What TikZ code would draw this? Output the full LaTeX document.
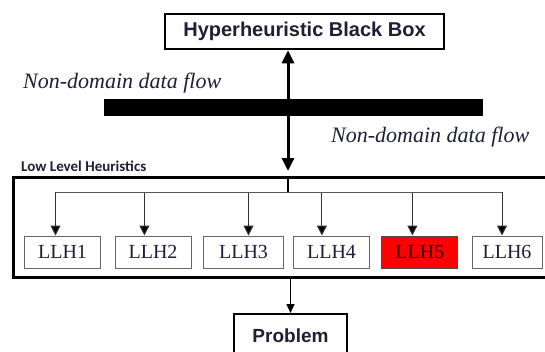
\documentclass[tikz,border=0pt]{standalone}
\usepackage{fontspec}
\setmainfont{Liberation Serif}
\newfontfamily\arialfont{Liberation Sans}
\newfontfamily\califont{Carlito}
\usepackage{tikz}
\usetikzlibrary{arrows.meta}

\definecolor{ink}{RGB}{30,30,55}
\definecolor{llhred}{RGB}{255,0,0}

\tikzset{
  llhbox/.style={draw=black!60, line width=1pt, minimum width=76pt, minimum height=32pt,
    inner sep=0pt, text=ink, font=\fontsize{20}{20}\selectfont},
  branch/.style={draw=black!65, line width=1pt},
  kid/.style={draw=black!80, line width=1pt, ->, >={Triangle[length=10pt,width=10pt,fill=black]}},
  flowtext/.style={anchor=base west, inner sep=0pt, text=ink, font=\itshape\fontsize{22}{22}\selectfont},
}

\begin{document}
\begin{tikzpicture}[x=1pt,y=-1pt]
\useasboundingbox (0,0) rectangle (545,351);

    % black box on top
    \node[draw, line width=2.5pt, minimum width=279pt, minimum height=35pt, inner sep=0pt,
      text=ink, font=\arialfont\bfseries\fontsize{20}{20}\selectfont] (hbb) at (304.5,31.5) {Hyperheuristic Black Box};

    \node[fill=black, minimum width=379pt, minimum height=17pt, inner sep=0pt] (bar) at (293.5,107.5) {};
    \node[flowtext] (flowup) at (23,88) {Non-domain data flow};
    \node[flowtext] (flowdown) at (331,142) {Non-domain data flow};

    % low level heuristics
    \node[draw, line width=2.5pt, minimum width=548pt, minimum height=100pt, inner sep=0pt] (llh) at (287.25,227.5) {};
    \node[anchor=base west, inner sep=0pt, text=ink,
      font=\califont\bfseries\fontsize{15}{15}\selectfont] (llhlabel) at (21,171) {Low Level Heuristics};

    \coordinate (inlet) at (288,171);
    \draw[{Triangle[length=13pt,width=12pt]}-{Triangle[length=13pt,width=12pt]}, line width=3pt] (hbb.south -| inlet) -- (inlet);

    \node[llhbox] (llh1) at (62.5,252) {LLH1};
    \node[llhbox] (llh2) at (153,252) {LLH2};
    \node[llhbox, minimum width=80pt] (llh3) at (243.5,252) {LLH3};
    \node[llhbox] (llh4) at (331.5,252) {LLH4};
    \node[llhbox, fill=llhred, draw=black!70, text=black!80!red] (llh5) at (419.8,252) {LLH5};
    \node[llhbox, minimum width=70pt] (llh6) at (507,252) {LLH6};

    \coordinate (split) at (288,192);
    \draw[line width=2pt] (llh.north -| split) -- (split);
    \foreach \i/\dx in {1/-7,2/-8.6,3/5,4/-9.6,5/-7.4,6/-5}{
      \coordinate (k\i) at ([xshift=\dx pt]llh\i.north);
      \draw[kid] (k\i |- split) -- (k\i);
    }
    \draw[branch] (k1 |- split) -- (k6 |- split);

    % problem
    \node[draw, line width=2pt, minimum width=113pt, minimum height=44pt, inner sep=0pt,
      text=ink, font=\arialfont\bfseries\fontsize{19}{19}\selectfont] (prob) at (290.5,336) {Problem};
    \draw[->, >={Triangle[length=9pt,width=8pt]}, line width=1.5pt] (llh.south -| prob.north) -- (prob.north);

\end{tikzpicture}
\end{document}
